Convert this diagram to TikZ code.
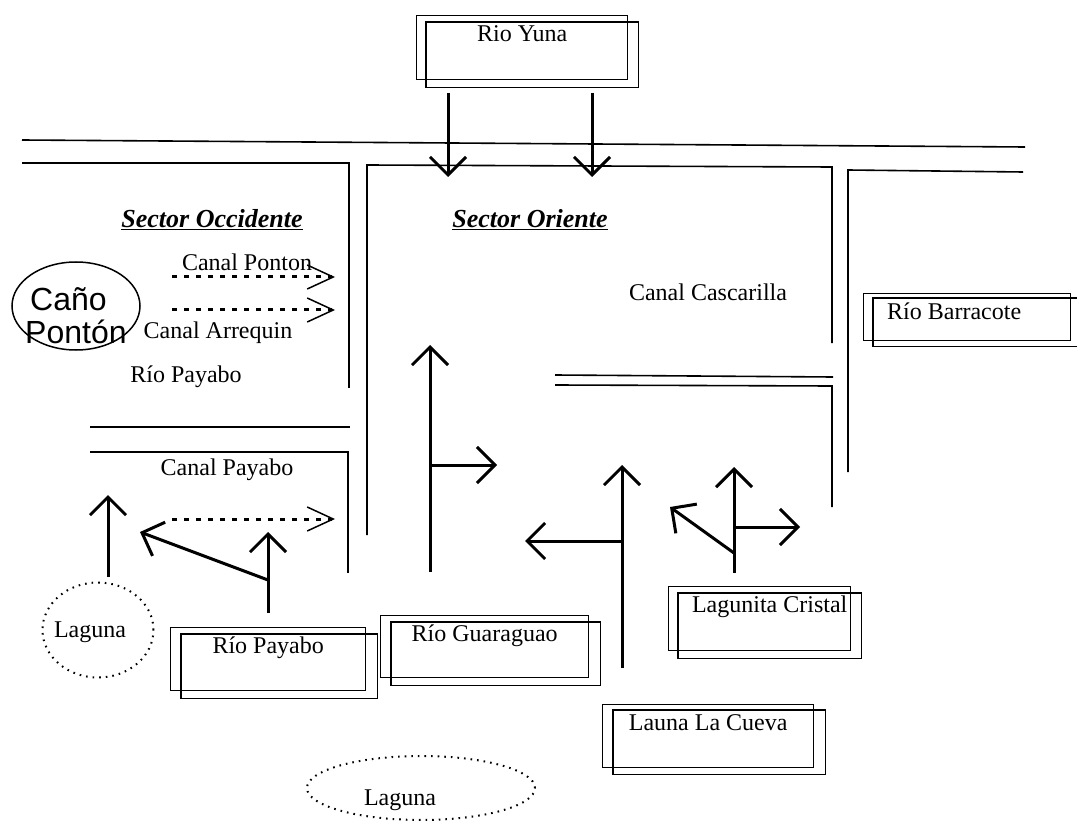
\documentclass[tikz,border=0pt]{standalone}
\usepackage{fontspec}
\setmainfont{Liberation Serif}
\newfontfamily\sansfam{Liberation Sans}
\usetikzlibrary{arrows.meta,shapes.geometric}
\newcommand\lblfont{\fontsize{24}{27}\selectfont}
\newcommand\ttlfont{\fontsize{26}{30}\selectfont\bfseries\itshape}
\begin{document}
\begin{tikzpicture}[x=1pt,y=-1pt,
  wall/.style={line width=1.6pt},
  flow/.style={line width=3pt,-{Straight Barb[length=18pt,width=36pt]}},
  dflow/.style={line width=3pt,dash pattern=on 5pt off 7pt,-{Straight Barb[length=26pt,width=24pt,line width=1.5pt]}},
  box/.style={draw,line width=1.4pt,anchor=north west,inner sep=4pt,text height=22pt,font=\lblfont},
  shadowbox/.style={line width=1.4pt},
  lbl/.style={font=\lblfont},
  ttl/.style={font=\ttlfont},
  lag/.style={draw,ellipse,line width=2pt,dash pattern=on 1.6pt off 5pt,inner sep=0pt}]
\path[fill=white,use as bounding box] (0,0) rectangle (1077,821);

% channel walls
\draw[wall] (22,140) -- (1025,147);
\draw[wall] (22,163) -- (349,163) -- (349,388);
\draw[wall] (367,535) -- (367,165) -- (832,167) -- (832,343);
\draw[wall] (848,472) -- (848,170) -- (1023,172);
\draw[wall] (90,427) -- (350,427);
\draw[wall] (90,452) -- (348,452) -- (348,573);
\draw[wall] (555,375) -- (833,377);
\draw[wall] (555,385) -- (832,386) -- (832,507);

% boxes
\node[box,minimum width=211pt,text depth=34pt] (yuna) at (416,15) {Rio Yuna};
\draw[shadowbox] ([shift={(10,7)}]yuna.north west) rectangle ([shift={(10,7)}]yuna.south east);
\node[box,minimum width=195pt,text depth=33pt] (payabo) at (170,627) {Río Payabo};
\draw[shadowbox] ([shift={(11,7)}]payabo.north west) rectangle ([shift={(11,7)}]payabo.south east);
\node[box,minimum width=208pt,text depth=32pt] (guara) at (380,615) {Río Guaraguao};
\draw[shadowbox] ([shift={(11,7)}]guara.north west) rectangle ([shift={(11,7)}]guara.south east);
\node[box,minimum width=182pt,text depth=34pt,inner xsep=2pt] (cristal) at (668,586) {\hspace*{20pt}Lagunita Cristal};
\draw[shadowbox] ([shift={(10,7)}]cristal.north west) rectangle ([shift={(10,7)}]cristal.south east);
\node[box,minimum width=211pt,text depth=33pt] (cueva) at (602,704) {Launa La Cueva};
\draw[shadowbox] ([shift={(11,6)}]cueva.north west) rectangle ([shift={(11,6)}]cueva.south east);
\node[box,minimum width=207pt,text depth=17pt] (barra) at (863,293) {Río Barracote\hspace*{26pt}};
\draw[shadowbox] ([shift={(10,5)}]barra.north west) rectangle ([shift={(14,5)}]barra.south east);

% lagoons and caño
\node[draw,ellipse,line width=1.5pt,minimum width=128pt,minimum height=88pt] (cano) at (76,306) {};
\node[anchor=base west,font=\sansfam\fontsize{32}{36}\selectfont,inner sep=0pt] (canotxt) at (30,311) {Caño};
\node[anchor=base west,font=\sansfam\fontsize{32}{36}\selectfont,inner sep=0pt] (pontxt) at (25,343) {Pontón};
\node[lag,minimum width=111pt,minimum height=95pt] (lagA) at (98,630) {};
\node[lbl] (lagAtxt) at (90,632) {Laguna};
\node[lag,minimum width=228pt,minimum height=64pt] (lagB) at (421,788) {};
\node[lbl] (lagBtxt) at (400,800) {Laguna};

% titles and labels
\node[ttl] (occ) at (212,220) {\underline{Sector Occidente}};
\node[ttl] (ori) at (530,220) {\underline{Sector Oriente}};
\node[lbl] (cpon) at (247,262) {Canal Ponton};
\node[lbl] (carr) at (218,333) {Canal Arrequin};
\node[lbl] (rpay) at (186,377) {Río Payabo};
\node[lbl] (cpay) at (227,470) {Canal Payabo};
\node[lbl] (ccas) at (708,292) {Canal Cascarilla};

% arrow end points
\coordinate (y1a) at (448,93);  \coordinate (y1b) at (448,177);
\coordinate (y2a) at (592,93);  \coordinate (y2b) at (592,177);
\coordinate (pa) at (172,277);  \coordinate (pb) at (335,277);
\coordinate (aa) at (172,310);  \coordinate (ab) at (335,310);
\coordinate (la) at (108,577);  \coordinate (lb) at (108,495);
\coordinate (ra) at (268,613);  \coordinate (rb) at (268,532);
\coordinate (rc) at (268,580);  \coordinate (rd) at (140,532);
\coordinate (qa) at (172,519);  \coordinate (qb) at (335,519);
\coordinate (ga) at (430,572);  \coordinate (gb) at (430,345);
\coordinate (gc) at (430,465);  \coordinate (gd) at (497,465);
\coordinate (ca) at (622,668);  \coordinate (cb) at (622,465);
\coordinate (cc) at (622,541);  \coordinate (cd) at (525,541);
\coordinate (ka) at (734,573);  \coordinate (kb) at (734,467);
\coordinate (kc) at (734,527);  \coordinate (kd) at (800,527);
\coordinate (ke) at (734,553);  \coordinate (kf) at (670,507);

% flows
\draw[flow] (y1a) -- (y1b);
\draw[flow] (y2a) -- (y2b);
\draw[dflow] (pa) -- (pb);
\draw[dflow] (aa) -- (ab);
\draw[flow] (la) -- (lb);
\draw[flow] (ra) -- (rb);
\draw[flow] (rc) -- (rd);
\draw[dflow] (qa) -- (qb);
\draw[flow] (ga) -- (gb);
\draw[flow] (gc) -- (gd);
\draw[flow] (ca) -- (cb);
\draw[flow] (cc) -- (cd);
\draw[flow] (ka) -- (kb);
\draw[flow] (kc) -- (kd);
\draw[flow] (ke) -- (kf);
\end{tikzpicture}
\end{document}
